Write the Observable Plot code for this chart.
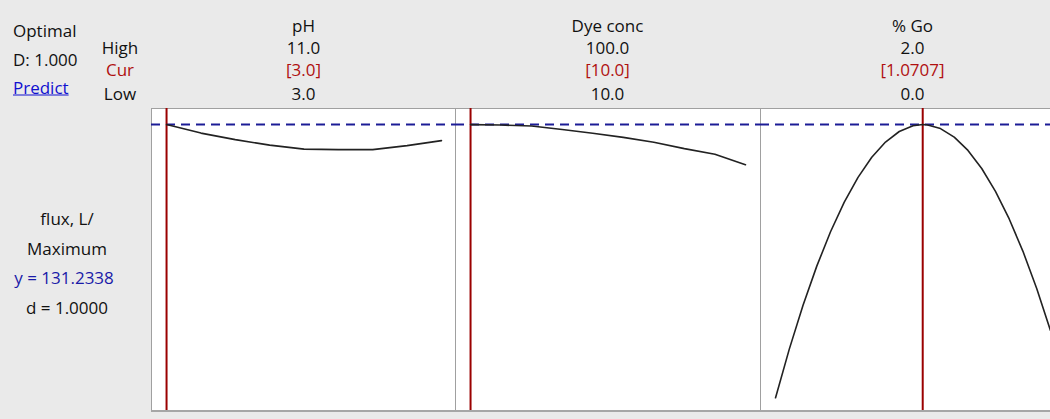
<!DOCTYPE html>
<html>
<head>
<meta charset="utf-8">
<script src="https://cdn.jsdelivr.net/npm/d3@7"></script>
<script src="https://cdn.jsdelivr.net/npm/@observablehq/plot@0.6"></script>
<style>
  html, body { margin: 0; padding: 0; background: #eaeaea; overflow: hidden; }
  #chart { position: relative; width: 1050px; height: 419px; overflow: hidden;
           font-family: "Open Sans", "Noto Sans", sans-serif; font-size: 17px; color: #111; }
  .t { position: absolute; white-space: nowrap; transform: translate(-50%, -50%); line-height: 1; }
  .l { position: absolute; white-space: nowrap; transform: translate(0, -50%); line-height: 1; }
  .red { color: #b01010; }
  .blue { color: #1a1aa8; }
  .link { color: #1010d0; text-decoration: underline; }
  .panel { position: absolute; top: 108px; }
  .panel svg { display: block; background: #ffffff; max-width: none !important; }
</style>
</head>
<body>
<div id="chart"></div>
<script>
// Response optimizer: predicted flux vs. each factor, with the others held at their optimal settings
const factors = ["pH", "Dye conc", "% Go"];
const highLabels = ["11.0", "100.0", "2.0"];
const curLabels = ["[3.0]", "[10.0]", "[1.0707]"];
const lowLabels = ["3.0", "10.0", "0.0"];
const highs = [11.0, 100.0, 2.0];
const lows = [3.0, 10.0, 0.0];
const currents = [3.0, 10.0, 1.0707];

const responseName = "flux, L/";
const goal = "Maximum";
const yOptimal = 131.2338;
const desirability = 1.0;
const compositeD = "1.000";

// Predicted response traces, one per factor
const phX = [3, 4, 5, 6, 7, 8, 9, 10, 11];
const phY = [131.23, 128.54, 126.48, 124.73, 123.47, 123.31, 123.31, 124.58, 126.16];

const dyeX = [10, 20, 30, 40, 50, 60, 70, 80, 90, 100];
const dyeY = [131.23, 131.08, 130.76, 129.65, 128.48, 127.18, 125.62, 123.63, 121.88, 118.56];

const goX = [0, 0.1, 0.2, 0.3, 0.4, 0.5, 0.6, 0.7, 0.8, 0.9, 1.0, 1.0707,
             1.1, 1.2, 1.3, 1.4, 1.5, 1.6, 1.7, 1.8, 1.9, 2.0];
const goY = [44.90, 60.28, 74.14, 86.50, 97.36, 106.71, 114.55, 120.89, 125.71, 129.04, 130.86, 131.23,
             131.17, 129.97, 127.27, 123.07, 117.36, 110.13, 101.41, 91.18, 79.45, 66.20];

const traces = [
  {x: phX, y: phY},
  {x: dyeX, y: dyeY},
  {x: goX, y: goY}
];

// Shared response axis for all panels
const yDomain = [40.57, 136.31];

const panelLeft = [151, 455, 760];
const panelW = 305, panelH = 303;
const padFrac = 15 / 274;

const chart = document.getElementById("chart");

function addText(cls, text, x, y, left) {
  const d = document.createElement("div");
  d.className = (left ? "l " : "t ") + cls;
  d.textContent = text;
  d.style.left = x + "px";
  d.style.top = y + "px";
  chart.appendChild(d);
}

// Header block on the left
addText("", "Optimal", 13, 30, true);
addText("", "D: " + compositeD, 13, 59, true);
addText("link", "Predict", 13, 87, true);
addText("", "High", 120, 47);
addText("red", "Cur", 120, 69);
addText("", "Low", 120, 93);

// Response summary
addText("", responseName, 67, 218);
addText("", goal, 67, 248);
addText("blue", "y = " + yOptimal.toFixed(4), 64, 277);
addText("", "d = " + desirability.toFixed(4), 67, 307);

factors.forEach((f, i) => {
  const cx = panelLeft[i] + panelW / 2;
  addText("", f, cx, 25);
  addText("", highLabels[i], cx, 47);
  addText("red", curLabels[i], cx, 69);
  addText("", lowLabels[i], cx, 93);

  const pad = (highs[i] - lows[i]) * padFrac;
  const t = traces[i];
  const data = t.x.map((x, k) => ({x, y: t.y[k]}));

  const svg = Plot.plot({
    width: panelW,
    height: panelH,
    margin: 0,
    style: {maxWidth: "none"},
    x: {domain: [lows[i] - pad, highs[i] + pad], axis: null},
    y: {domain: yDomain, axis: null},
    marks: [
      Plot.frame({stroke: "#a0a0a0", strokeWidth: 1}),
      Plot.ruleY([yOptimal], {stroke: "#1c1c96", strokeWidth: 2, strokeDasharray: "9,6"}),
      Plot.ruleX([currents[i]], {stroke: "#9a0000", strokeWidth: 2}),
      Plot.line(data, {x: "x", y: "y", stroke: "#222", strokeWidth: 1.6})
    ]
  });
  const wrap = document.createElement("div");
  wrap.className = "panel";
  wrap.style.left = panelLeft[i] + "px";
  wrap.style.width = panelW + "px";
  wrap.appendChild(svg);
  chart.appendChild(wrap);
});

// Heavier bottom edge under the panels
const base = document.createElement("div");
base.style.cssText = "position:absolute;left:151px;top:410px;width:920px;height:2px;background:#a6a6a6;";
chart.appendChild(base);
</script>
</body>
</html>
